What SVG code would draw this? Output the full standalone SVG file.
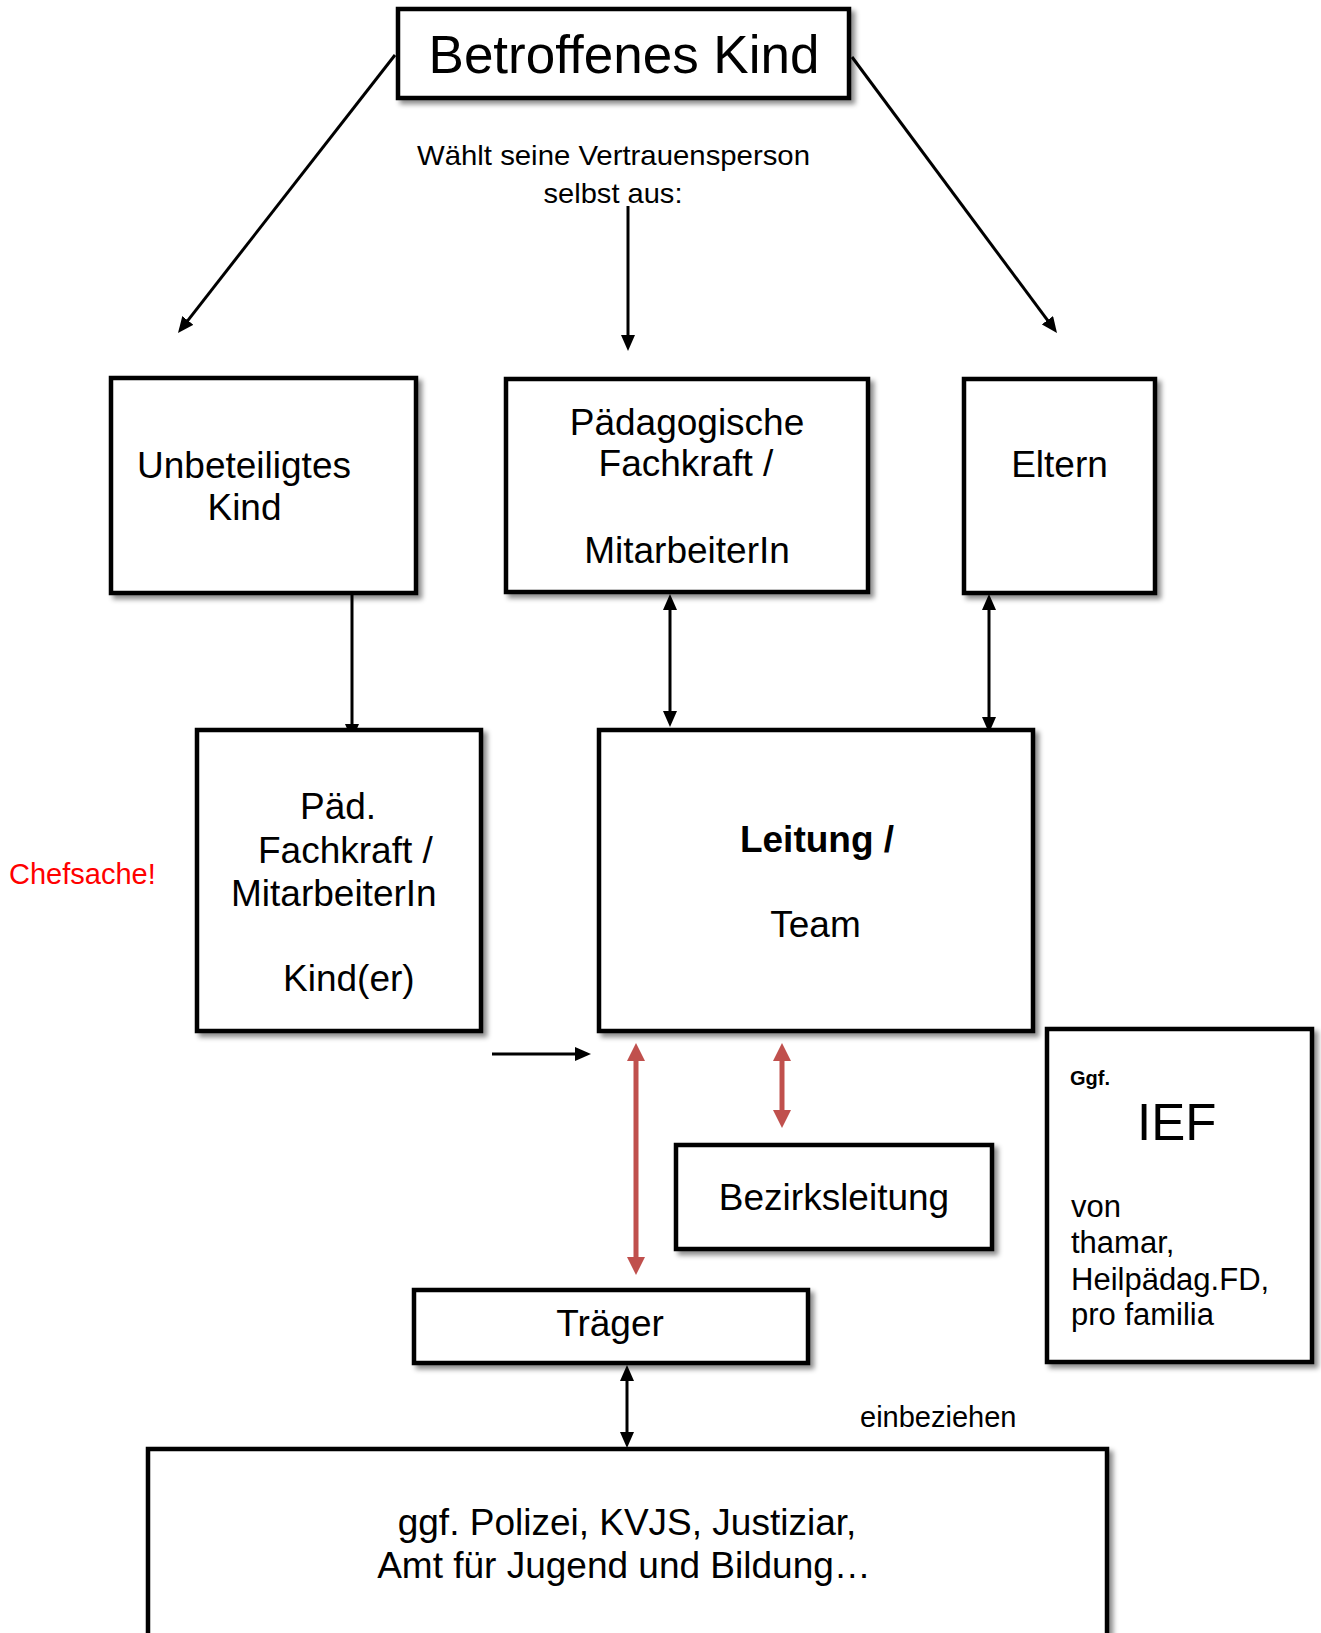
<svg xmlns="http://www.w3.org/2000/svg" width="1321" height="1633" viewBox="0 0 1321 1633">
<style>
.box{fill:#fff;stroke:#000;stroke-width:4.5;filter:url(#sh)}
.t{font-family:"Liberation Sans",Arial,sans-serif;fill:#000}
.c{text-anchor:middle}
.f37{font-size:37px}
.ln{stroke:#000;stroke-width:3;fill:none}
.red{stroke:#C0504D;stroke-width:5;fill:none}
</style>
<defs>
<filter id="sh" x="-10%" y="-10%" width="125%" height="130%">
<feDropShadow dx="4" dy="4" stdDeviation="2.5" flood-color="#000" flood-opacity="0.45"/>
</filter>
<marker id="ab" viewBox="0 0 16 14" refX="10" refY="7" markerWidth="16" markerHeight="14" markerUnits="userSpaceOnUse" orient="auto-start-reverse">
<path d="M0,0 L16,7 L0,14 z" fill="#000"/>
</marker>
<marker id="ar" viewBox="0 0 18 18" refX="12" refY="9" markerWidth="18" markerHeight="18" markerUnits="userSpaceOnUse" orient="auto-start-reverse">
<path d="M0,0 L18,9 L0,18 z" fill="#C0504D"/>
</marker>
</defs>
<rect width="1321" height="1633" fill="#fff"/>

<g id="connectors">
<line class="ln" x1="395" y1="55" x2="181.7" y2="328.3" marker-end="url(#ab)"/>
<line class="ln" x1="852" y1="57" x2="1053.4" y2="328.2" marker-end="url(#ab)"/>
<line class="ln" x1="628" y1="206" x2="628" y2="345" marker-end="url(#ab)"/>
<line class="ln" x1="352" y1="595" x2="352" y2="734" marker-end="url(#ab)"/>
<line class="ln" x1="670" y1="600" x2="670" y2="721" marker-start="url(#ab)" marker-end="url(#ab)"/>
<line class="ln" x1="989" y1="600" x2="989" y2="727" marker-start="url(#ab)" marker-end="url(#ab)"/>
<line class="ln" x1="492" y1="1054" x2="585" y2="1054" marker-end="url(#ab)"/>
<line class="red" x1="636" y1="1049" x2="636" y2="1269" marker-start="url(#ar)" marker-end="url(#ar)"/>
<line class="red" x1="782" y1="1049" x2="782" y2="1122" marker-start="url(#ar)" marker-end="url(#ar)"/>
<line class="ln" x1="627" y1="1371" x2="627" y2="1442" marker-start="url(#ab)" marker-end="url(#ab)"/>
</g>

<g id="betroffenes-kind">
<rect class="box" x="398" y="9" width="451" height="89"/>
<text class="t c" x="624" y="73" font-size="53">Betroffenes Kind</text>
</g>

<g id="label-waehlt">
<text class="t c" x="613.5" y="165" font-size="28" textLength="393" lengthAdjust="spacingAndGlyphs">Wählt seine Vertrauensperson</text>
<text class="t c" x="613" y="203" font-size="28" textLength="139" lengthAdjust="spacingAndGlyphs">selbst aus:</text>
</g>

<g id="unbeteiligtes-kind">
<rect class="box" x="111" y="378" width="305" height="215"/>
<text class="t c f37" x="244" y="478">Unbeteiligtes</text>
<text class="t c f37" x="244.5" y="520">Kind</text>
</g>

<g id="paedagogische-fachkraft">
<rect class="box" x="506" y="379" width="362" height="213"/>
<text class="t c f37" x="687" y="435">Pädagogische</text>
<text class="t c f37" x="686" y="476">Fachkraft /</text>
<text class="t c f37" x="687" y="563">MitarbeiterIn</text>
</g>

<g id="eltern">
<rect class="box" x="964" y="379" width="191" height="214"/>
<text class="t c f37" x="1059.5" y="477">Eltern</text>
</g>

<g id="chefsache">
<text class="t" x="9" y="884" font-size="29" style="fill:#FF0000">Chefsache!</text>
</g>

<g id="paed-fachkraft-kinder">
<rect class="box" x="197" y="730" width="284" height="301"/>
<text class="t f37" x="300" y="819">Päd.</text>
<text class="t f37" x="258" y="863">Fachkraft /</text>
<text class="t f37" x="231" y="906">MitarbeiterIn</text>
<text class="t f37" x="283" y="991">Kind(er)</text>
</g>

<g id="leitung-team">
<rect class="box" x="599" y="730" width="434" height="301"/>
<text class="t c f37" x="817" y="852" font-weight="bold">Leitung /</text>
<text class="t c f37" x="815.5" y="937">Team</text>
</g>

<g id="bezirksleitung">
<rect class="box" x="676" y="1145" width="316" height="104"/>
<text class="t c f37" x="834" y="1210">Bezirksleitung</text>
</g>

<g id="traeger">
<rect class="box" x="414" y="1290" width="394" height="73"/>
<text class="t c f37" x="610" y="1336">Träger</text>
</g>

<g id="ief">
<rect class="box" x="1047" y="1029" width="265" height="333"/>
<text class="t" x="1070" y="1085" font-size="20" font-weight="bold">Ggf.</text>
<text class="t" x="1137" y="1140" font-size="51">IEF</text>
<text class="t" x="1071" y="1217" font-size="31">von</text>
<text class="t" x="1071" y="1253" font-size="31">thamar,</text>
<text class="t" x="1071" y="1290" font-size="31">Heilpädag.FD,</text>
<text class="t" x="1071" y="1325" font-size="31">pro familia</text>
</g>

<g id="label-einbeziehen">
<text class="t" x="860" y="1427" font-size="29">einbeziehen</text>
</g>

<g id="extern">
<rect class="box" x="148" y="1449" width="959" height="220"/>
<text class="t c f37" x="627" y="1535">ggf. Polizei, KVJS, Justiziar,</text>
<text class="t c f37" x="624" y="1578">Amt für Jugend und Bildung…</text>
</g>
</svg>
